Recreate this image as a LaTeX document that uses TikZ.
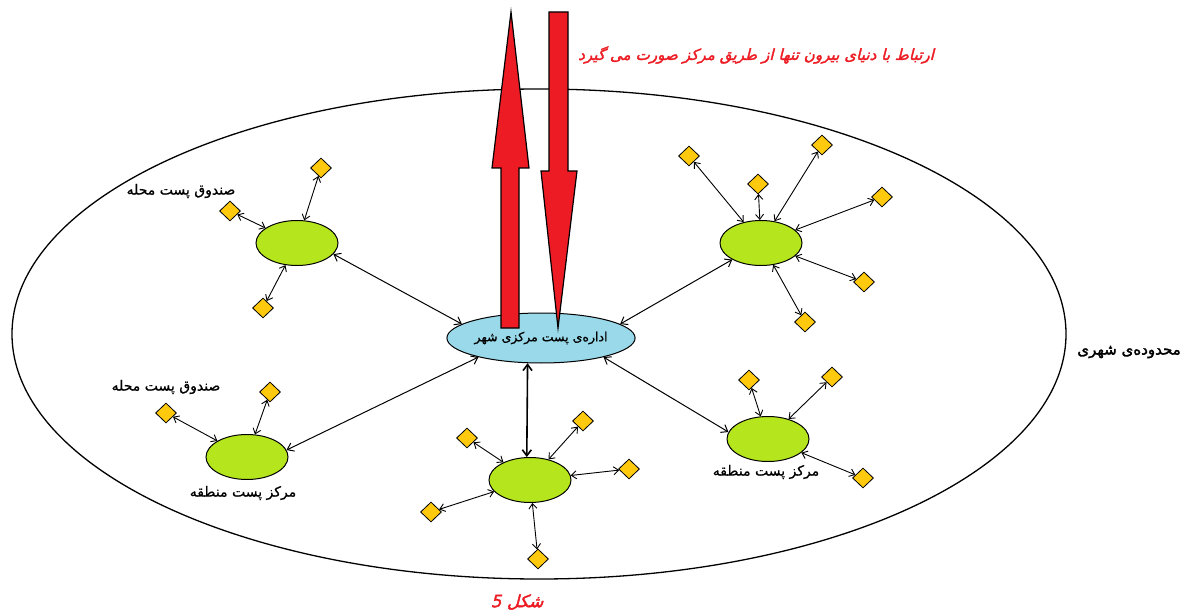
\documentclass[tikz,border=0pt]{standalone}
\usepackage{fontspec}
\usetikzlibrary{shapes.geometric,arrows.meta}
\TeXXeTstate=1
\newfontfamily\arabicfont[Script=Arabic,FakeBold=0.8]{DejaVu Sans}
\newfontfamily\arabicbold[Script=Arabic,FakeBold=2]{DejaVu Sans}
\newfontfamily\arabicbi[Script=Arabic,FakeBold=2,FakeSlant=0.25]{DejaVu Sans}
\definecolor{hubblue}{HTML}{99D9EA}
\definecolor{leafgreen}{HTML}{B5E61D}
\definecolor{boxyellow}{HTML}{FFC90E}
\definecolor{arrowred}{HTML}{ED1C24}
\begin{document}
\begin{tikzpicture}[x=1pt,y=-1pt,
  hub/.style={ellipse,draw=black,line width=1pt,fill=hubblue,minimum width=184pt,minimum height=50pt,inner sep=0pt},
  center/.style={ellipse,draw=black,line width=1pt,fill=leafgreen,minimum width=82pt,minimum height=45pt,inner sep=0pt},
  box/.style={diamond,draw=black,line width=0.8pt,fill=boxyellow,minimum width=21pt,minimum height=20pt,inner sep=0pt},
  link/.style={line width=0.9pt,<->,>={Straight Barb[length=5pt,width=8pt]}},
  mainlink/.style={line width=1pt,<->,>={Straight Barb[length=6pt,width=9pt]}},
  redarrow/.style={draw=black,line width=1.2pt,fill=arrowred,line join=miter},
  lbl/.style={font=\arabicfont\fontsize{14}{16}\selectfont,inner sep=0pt},
  redlbl/.style={font=\arabicbi\fontsize{15.2}{17}\selectfont,text=arrowred,inner sep=0pt}
]
\useasboundingbox (0,0) rectangle (1188,612);
\fill[white] (0,0) rectangle (1188,612);

% city boundary
\draw[line width=1.3pt] (539,334) ellipse [x radius=527pt, y radius=245pt];

% central office
\node[hub] (C) at (541,338) {\arabicfont\fontsize{12.5}{15}\selectfont\beginR اداره‌ی پست مرکزی شهر\endR};

% regional centers
\node[center] (G1) at (297,243) {};
\node[center] (G2) at (761,243) {};
\node[center] (G3) at (247,457) {};
\node[center] (G4) at (768,439) {};
\node[center] (G5) at (530,480) {};

% mail boxes
\node[box] (a1) at (321,168) {};
\node[box] (a2) at (230,211) {};
\node[box] (a3) at (263,308) {};

\node[box] (b1) at (689,156) {};
\node[box] (b2) at (758,184) {};
\node[box] (b3) at (822,145) {};
\node[box] (b4) at (882,197) {};
\node[box] (b5) at (864,282) {};
\node[box] (b6) at (805,322) {};

\node[box] (c1) at (166,413) {};
\node[box] (c2) at (270,392) {};

\node[box] (d1) at (749,380) {};
\node[box] (d2) at (832,377) {};
\node[box] (d3) at (863,478) {};

\node[box] (e1) at (467,438) {};
\node[box] (e2) at (583,421) {};
\node[box] (e3) at (629,469) {};
\node[box] (e4) at (431,512) {};
\node[box] (e5) at (538,559) {};

% links to central office
\draw[mainlink] (G1.343) -- (C.170);
\draw[mainlink] (G2.210) -- (C.10);
\draw[mainlink] (G3.10) -- (C.197);
\draw[mainlink] (G4.170) -- (C.343);
\draw[mainlink,line width=1.6pt] (G5.98) -- (C.242);

% links to boxes
\foreach \b in {a1,a2,a3} \draw[link] (G1) -- (\b);
\foreach \b in {b1,b2,b3,b4,b5,b6} \draw[link] (G2) -- (\b);
\foreach \b in {c1,c2} \draw[link] (G3) -- (\b);
\foreach \b in {d1,d2,d3} \draw[link] (G4) -- (\b);
\foreach \b in {e1,e2,e3,e4,e5} \draw[link] (G5) -- (\b);

% big red arrows
\draw[redarrow] (501,328) -- (501,168) -- (492,168) -- (511,12) -- (529,168) -- (519,168) -- (519,328) -- cycle;
\draw[redarrow] (549,12) -- (568,12) -- (568,171) -- (577,171) -- (558,328) -- (541,171) -- (549,171) -- cycle;

% labels
\node[redlbl] (top) at (756,55) {\beginR ارتباط با دنیای بیرون تنها از طریق مرکز صورت می گیرد\endR};
\node[lbl] (l1) at (181,191) {\beginR صندوق پست محله\endR};
\node[lbl] (l2) at (166,387) {\beginR صندوق پست محله\endR};
\node[lbl] (l3) at (243,493) {\beginR مرکز پست منطقه\endR};
\node[lbl] (l4) at (766,472) {\beginR مرکز پست منطقه\endR};
\node[lbl,font=\arabicbold\fontsize{15}{17}\selectfont] (l5) at (1129,352) {\beginR محدوده‌ی شهری\endR};
\node[redlbl,font=\arabicbi\fontsize{17}{19}\selectfont] (fig) at (517,602) {\beginR شکل 5\endR};
\end{tikzpicture}
\end{document}
